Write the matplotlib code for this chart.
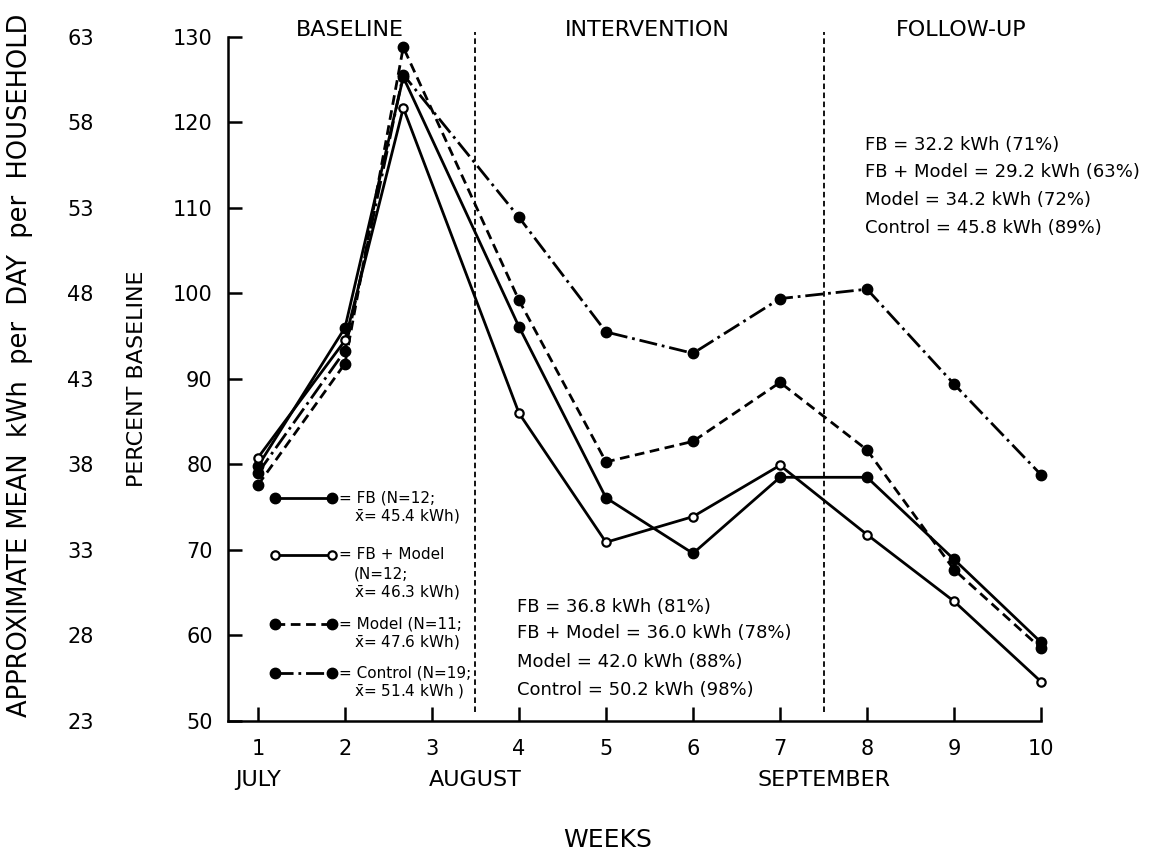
import numpy as np
import matplotlib
matplotlib.use("Agg")
from matplotlib import pyplot as plt

plt.rcParams['font.family'] = ['DejaVu Sans']
plt.rcParams['mathtext.fontset'] = 'dejavusans'
plt.rcParams['lines.scale_dashes'] = False

# week positions (the peak week is plotted a bit left of tick 3, as in the original)
weeks = [1, 2, 2.67, 4, 5, 6, 7, 8, 9, 10]
fb = [79.8, 96.0, 125.3, 96.1, 76.1, 69.6, 78.5, 78.5, 68.9, 59.2]
fb_model = [80.8, 94.5, 121.7, 86.0, 70.9, 73.9, 79.9, 71.8, 64.0, 54.6]
model = [77.6, 91.8, 128.8, 99.2, 80.3, 82.7, 89.6, 81.7, 67.7, 58.5]
control = [79.0, 93.3, 125.6, 108.9, 95.5, 93.0, 99.4, 100.5, 89.4, 78.8]

pct_ticks = [50, 60, 70, 80, 90, 100, 110, 120, 130]
kwh_ticks = [23, 28, 33, 38, 43, 48, 53, 58, 63]
week_ticks = list(range(1, 11))
months = ["JULY", "AUGUST", "SEPTEMBER"]
month_pos = [1, 3.5, 7.5]
phase_splits = [3.5, 7.5]
phases = ["BASELINE", "INTERVENTION", "FOLLOW-UP"]
phase_pos = [2.06, 5.48, 9.08]

interv_text = ["FB = 36.8 kWh (81%)", "FB + Model = 36.0 kWh (78%)",
               "Model = 42.0 kWh (88%)", "Control = 50.2 kWh (98%)"]
follow_text = ["FB = 32.2 kWh (71%)", "FB + Model = 29.2 kWh (63%)",
               "Model = 34.2 kWh (72%)", "Control = 45.8 kWh (89%)"]

xbar = r'$\bar{\mathrm{x}}$'
legend_lines = [
    ["= FB (N=12;", xbar + "= 45.4 kWh)"],
    ["= FB + Model", "(N=12;", xbar + "= 46.3 kWh)"],
    ["= Model (N=11;", xbar + "= 47.6 kWh)"],
    ["= Control (N=19;", xbar + "= 51.4 kWh )"],
]

lw = 2.0
styles = [
    dict(ls='-', marker='o', ms=7.5, mfc='black', mec='black'),
    dict(ls='-', marker='o', ms=6.0, mfc='white', mec='black', mew=1.6),
    dict(ls=(0, (7, 4)), marker='o', ms=7.5, mfc='black', mec='black'),
    dict(ls=(0, (13, 3.5, 2, 3.5)), marker='o', ms=7.5, mfc='black', mec='black'),
]
series = [fb, fb_model, model, control]

fig = plt.figure(figsize=(11.59, 8.5), dpi=100)
ax = fig.add_axes([0.1967, 0.1518, 0.7015, 0.8047])

for vals, st, z in zip(series, styles, [3, 5, 3, 3]):
    ax.plot(weeks, vals, color='black', lw=lw, clip_on=False, zorder=z, **st)

for xs in phase_splits:
    ax.plot([xs, xs], [51.0, 130.6], color='black', lw=1.3, ls=(0, (4, 2.5)),
            clip_on=False, zorder=1)

ax.set_xlim(0.655, 10)
ax.set_ylim(50, 130)
ax.set_xticks(week_ticks)
ax.set_xticklabels([str(w) for w in week_ticks], fontsize=15)
ax.set_yticks(pct_ticks)
ax.set_yticklabels([str(p) for p in pct_ticks], fontsize=15)
ax.tick_params(axis='both', direction='in', length=10, width=1.8)
ax.tick_params(axis='x', pad=13)
ax.tick_params(axis='y', pad=11)
for s in ['top', 'right']:
    ax.spines[s].set_visible(False)
for s in ['left', 'bottom']:
    ax.spines[s].set_linewidth(1.8)

ax.set_ylabel("PERCENT BASELINE", fontsize=16)
ax.yaxis.set_label_coords(-0.10, 0.5)

# second column of tick labels: approximate kWh per day
sec = ax.secondary_yaxis(-0.165, functions=(lambda p: 23 + (p - 50) * 0.5,
                                             lambda k: 50 + (k - 23) * 2.0))
sec.set_yticks(kwh_ticks)
sec.set_yticklabels([str(k) for k in kwh_ticks], fontsize=15)
sec.tick_params(length=0, pad=0)
sec.spines['left'].set_visible(False)

fig.text(20 / 1159, 1 - 365 / 850,
         "APPROXIMATE MEAN  kWh  per  DAY  per  HOUSEHOLD",
         rotation=90, ha='center', va='center', fontsize=18.5)

xt = ax.get_xaxis_transform()
for m, p in zip(months, month_pos):
    ax.text(p, -0.086, m, transform=xt, ha='center', va='center', fontsize=16)
for ph, p in zip(phases, phase_pos):
    ax.text(p, 1.010, ph, transform=xt, ha='center', va='center', fontsize=16)

fig.text(608 / 1159, 1 - 840 / 850, "WEEKS", ha='center', va='center', fontsize=18)

# phase averages
for i, t in enumerate(interv_text):
    ax.text(0.355, [0.167, 0.129, 0.086, 0.045][i], t, transform=ax.transAxes,
            ha='left', va='center', fontsize=13)
for i, t in enumerate(follow_text):
    ax.text(0.784, [0.842, 0.803, 0.762, 0.721][i], t, transform=ax.transAxes,
            ha='left', va='center', fontsize=13)

# hand-drawn style key
key_rows = [0.326, 0.243, 0.142, 0.070]
for st, row, lines in zip(styles, key_rows, legend_lines):
    ax.plot([0.058, 0.128], [row, row], transform=ax.transAxes, color='black',
            lw=lw, clip_on=False, zorder=4, **st)
    ax.text(0.137, row, lines[0], transform=ax.transAxes, ha='left', va='center',
            fontsize=11)
    for j, extra in enumerate(lines[1:]):
        ax.text(0.155, row - 0.028 * (j + 1), extra, transform=ax.transAxes,
                ha='left', va='center', fontsize=11)

fig.savefig("out.png", dpi=100)
